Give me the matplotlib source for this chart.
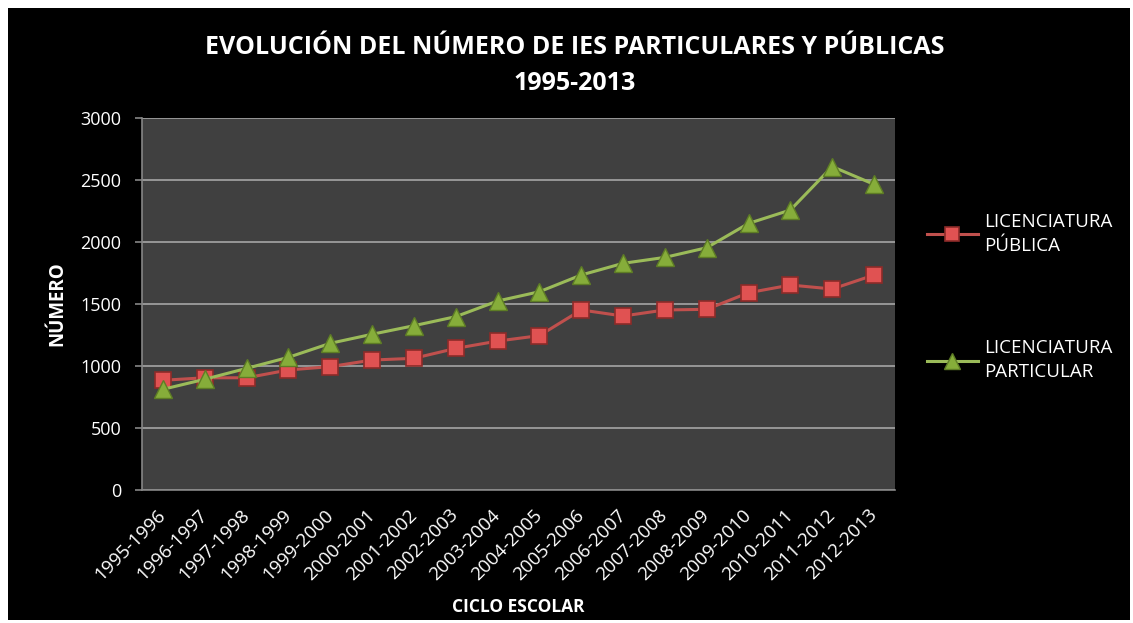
## Evolucion del numero de IES particulares y publicas, 1995-2013

import matplotlib.pyplot as plt
from matplotlib.patches import Rectangle
from matplotlib.transforms import ScaledTranslation
import numpy as np

plt.rcParams['font.family'] = ['Open Sans', 'DejaVu Sans']

ciclos = ['1995-1996', '1996-1997', '1997-1998', '1998-1999', '1999-2000', '2000-2001',
          '2001-2002', '2002-2003', '2003-2004', '2004-2005', '2005-2006', '2006-2007',
          '2007-2008', '2008-2009', '2009-2010', '2010-2011', '2011-2012', '2012-2013']

lic_publica = [885, 905, 905, 968, 995, 1048, 1062, 1142, 1201, 1245,
               1452, 1403, 1452, 1457, 1591, 1653, 1621, 1734]
lic_particular = [812, 893, 981, 1070, 1183, 1256, 1325, 1398, 1524, 1599,
                  1734, 1828, 1876, 1954, 2150, 2258, 2608, 2465]

label_pub = 'LICENCIATURA\nPÚBLICA'
label_par = 'LICENCIATURA\nPARTICULAR'

W, H = 1133, 623
fig = plt.figure(figsize=(W/100, H/100), dpi=100, facecolor='white')

# black chart background inside a thin white border
fig.patches.append(Rectangle((8/W, 3/H), (W-11)/W, (H-11)/H, transform=fig.transFigure,
                             facecolor='black', edgecolor='none', zorder=-10))

ax1 = fig.add_axes([142/W, 133/H, (895-142)/W, (490-118)/H])
ax1.set_facecolor('#404040')

x = np.arange(len(ciclos))

ax1.plot(x, lic_publica, color='#C0504D', linewidth=2.2, marker='s', markersize=11,
         markerfacecolor='#E05252', markeredgecolor='#8C2B29', markeredgewidth=1.2,
         label=label_pub, zorder=3)
ax1.plot(x, lic_particular, color='#9BBB59', linewidth=2.2, marker='^', markersize=13,
         markerfacecolor='#86AD3A', markeredgecolor='#5E7D25', markeredgewidth=1.0,
         label=label_par, zorder=3)

ax1.set_xlim(-0.5, len(ciclos) - 0.5)
ax1.set_ylim(0, 3000)
ax1.set_yticks(np.arange(0, 3001, 500))
ax1.set_xticks(x)
ax1.set_xticklabels(ciclos, rotation=45, ha='right', va='center', rotation_mode='anchor')

# nudge rotated labels a little to the right
offset = ScaledTranslation(5/72, 0, fig.dpi_scale_trans)
for lbl in ax1.get_xticklabels():
    lbl.set_transform(lbl.get_transform() + offset)

ax1.grid(True, axis='y', color='#A6A6A6', linewidth=1.2)
ax1.set_axisbelow(True)
for s in ['top', 'right']:
    ax1.spines[s].set_visible(False)
for s in ['left', 'bottom']:
    ax1.spines[s].set_color('#868686')
    ax1.spines[s].set_linewidth(1.2)

ax1.tick_params(axis='y', colors='#868686', labelcolor='white', labelsize=13,
                length=5, width=1.2, pad=10)
ax1.tick_params(axis='x', colors='#868686', labelcolor='white', labelsize=13.5,
                length=0, pad=16)

ax1.set_ylabel('NÚMERO', color='white', fontsize=13.5, fontweight='bold', labelpad=9)
fig.text(518/W, 1 - 607/H, 'CICLO ESCOLAR', color='white', fontsize=12.5,
         fontweight='bold', ha='center', va='center')

fig.text(575/W, 1 - 48/H, 'EVOLUCIÓN DEL NÚMERO DE IES PARTICULARES Y PÚBLICAS',
         color='white', fontsize=18, fontweight='bold', ha='center', va='center')
fig.text(575/W, 1 - 83/H, '1995-2013', color='white', fontsize=18,
         fontweight='bold', ha='center', va='center')

leg = fig.legend(loc='center left', bbox_to_anchor=(910/W, 1 - 297/H), frameon=False,
                 fontsize=13.5, labelcolor='white', labelspacing=4.5, handlelength=2.7,
                 handletextpad=0.37, markerscale=0.9)
for t in leg.get_texts():
    t.set_linespacing(1.45)

fig.savefig('out.png', dpi=100, facecolor='white')
